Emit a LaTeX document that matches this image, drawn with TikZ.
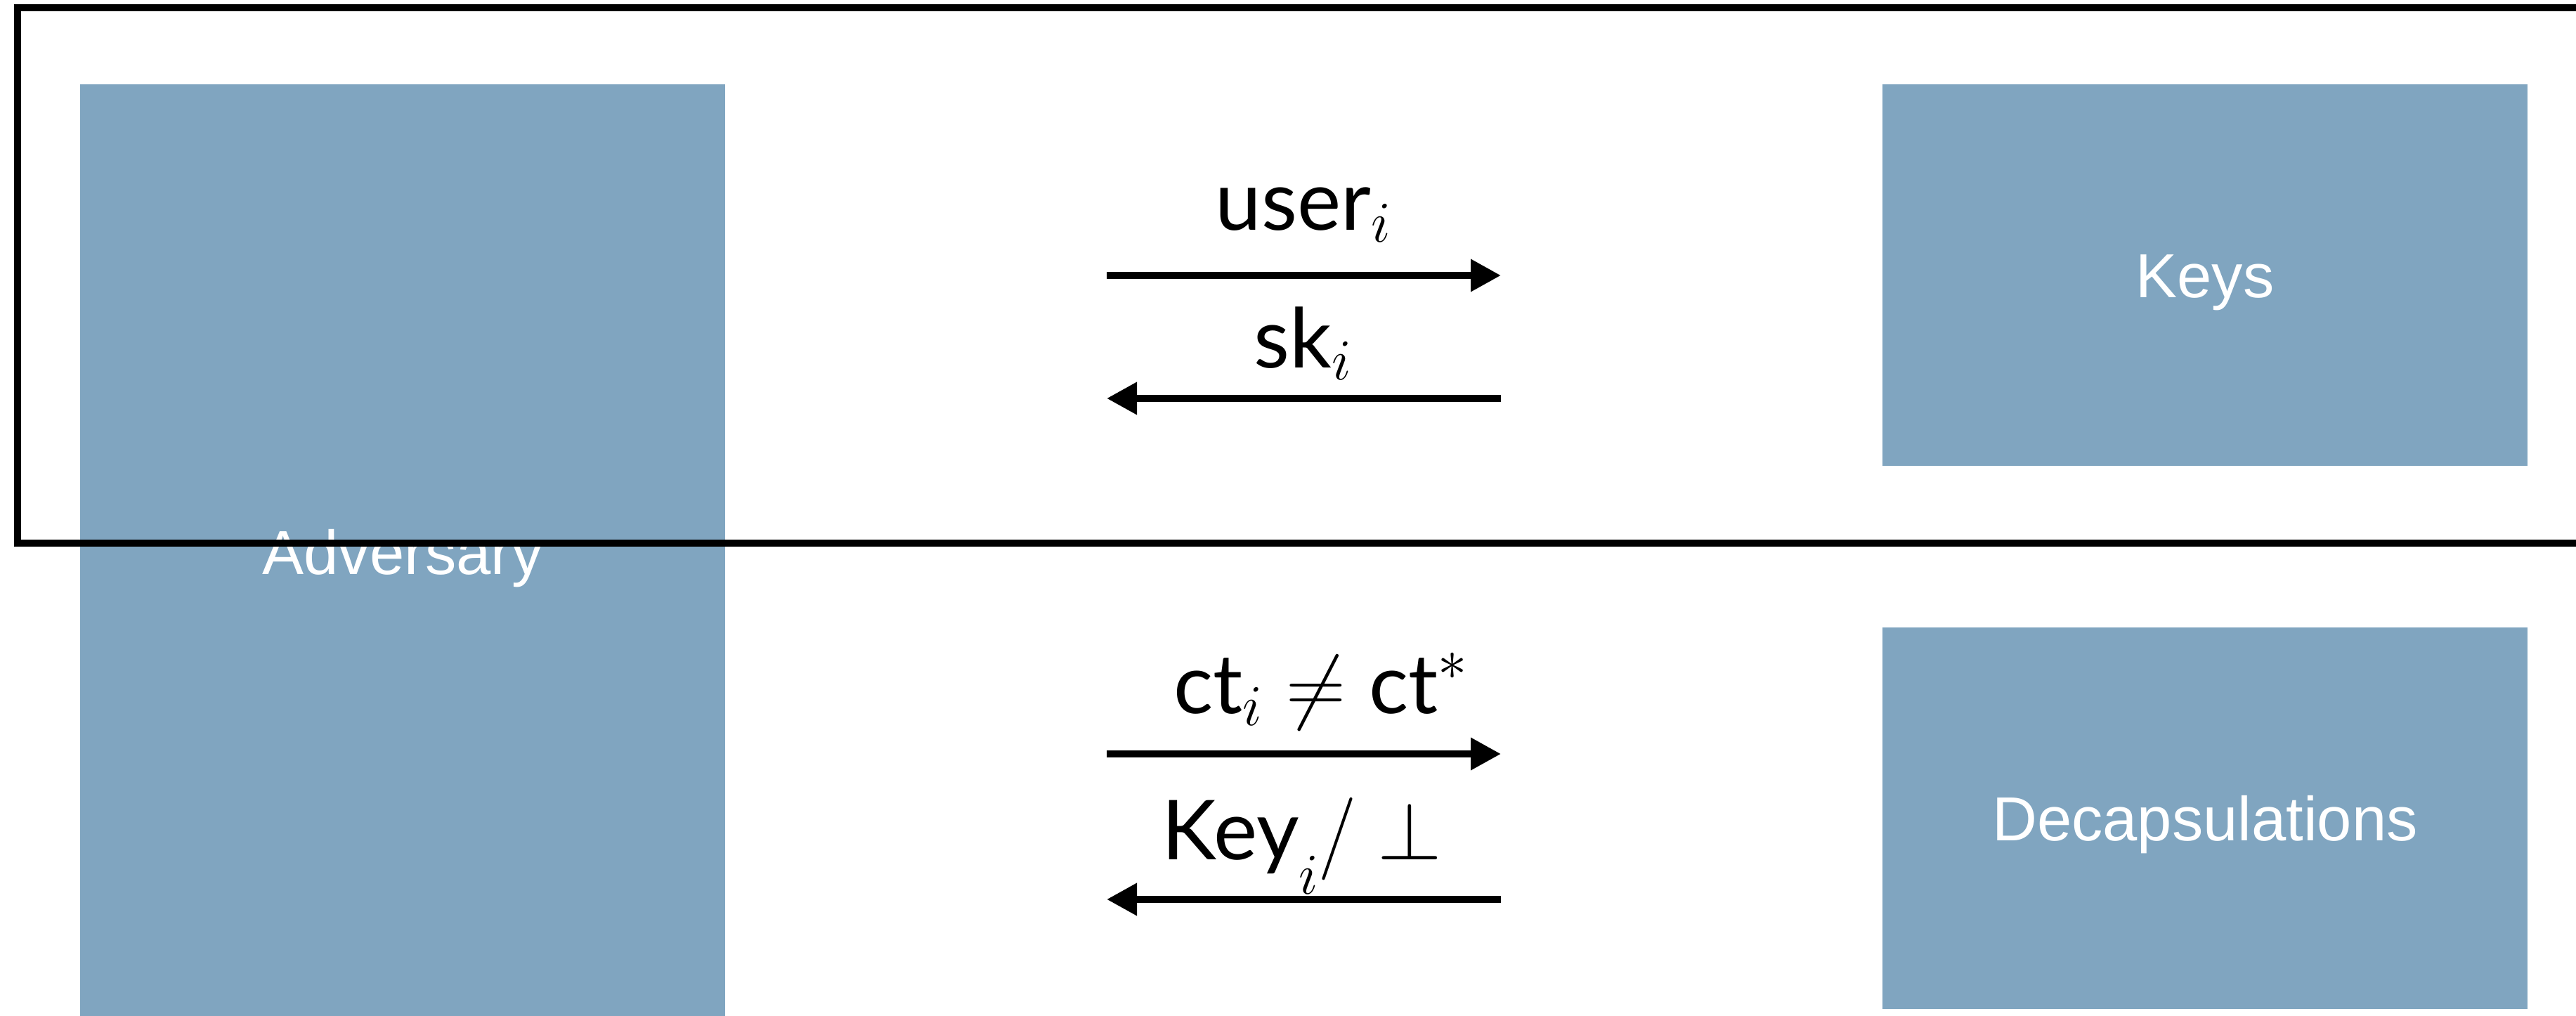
\RequirePackage{fix-cm}
\documentclass[tikz,border=0pt]{standalone}
\usepackage{amsmath}
\usepackage{fontspec}
\setmainfont{Liberation Sans}
\newfontfamily\msgfont{Lato}
\usetikzlibrary{
  arrows.meta,
  positioning
}
\definecolor{oracleBlue}{HTML}{80A5C0}
\tikzset{
  partyBox/.style={
    fill=oracleBlue,
    minimum width=9.18cm,
    text=white,
    font=\fontsize{25.2}{30}\selectfont,
    text height=0.63cm,
    text depth=0pt,
    inner sep=0pt
  },
  msgArrow/.style={line width=2.85pt, -{Triangle[length=4.3mm, width=4.4mm]}},
  msgLabel/.style={
    anchor=base,
    inner sep=0pt,
    font=\msgfont\fontsize{33.5}{40}\selectfont
  },
  gameFrame/.style={line width=2.9pt}
}

\begin{document}
\begin{tikzpicture}[x=1cm,y=1cm]
  \useasboundingbox (0,0) rectangle (36.66,14.45);
  \clip (0,0) rectangle (36.66,14.45);

  % parties
  \node[partyBox, minimum height=13.31cm] (adversary) at (5.73,6.595) {Adversary};
  \node[partyBox, minimum height=5.43cm] (keys) at (31.38,10.535) {Keys};
  \node[partyBox, minimum height=5.43cm, below=2.29cm of keys] (decaps) {Decapsulations};

  % key queries
  \coordinate (userFrom) at (15.75,10.53);
  \coordinate (userTo)   at (21.36,10.53);
  \coordinate (skFrom)   at (21.36,8.78);
  \coordinate (skTo)     at (15.75,8.78);
  \draw[msgArrow] (userFrom) -- (userTo);
  \draw[msgArrow] (skFrom) -- (skTo);
  \node[msgLabel] (userLbl) at (18.55,11.18) {$\text{user}_i$};
  \node[msgLabel] (skLbl)   at (18.55,9.22)  {$\text{sk}_i$};

  % decapsulation queries
  \coordinate (ctFrom)  at (15.75,3.72);
  \coordinate (ctTo)    at (21.36,3.72);
  \coordinate (keyFrom) at (21.36,1.65);
  \coordinate (keyTo)   at (15.75,1.65);
  \draw[msgArrow] (ctFrom) -- (ctTo);
  \draw[msgArrow] (keyFrom) -- (keyTo);
  \node[msgLabel] (ctLbl)  at (18.80,4.30) {$\text{ct}_i \neq \text{ct}^*$};
  \node[msgLabel] (keyLbl) at (18.53,2.22) {$\text{Key}\raisebox{-0.42em}{$\scriptstyle i$}/\ \bot$};

  % outer box of the key oracle
  \draw[gameFrame] (0.25,14.34) rectangle (37.5,6.72);
\end{tikzpicture}
\end{document}
